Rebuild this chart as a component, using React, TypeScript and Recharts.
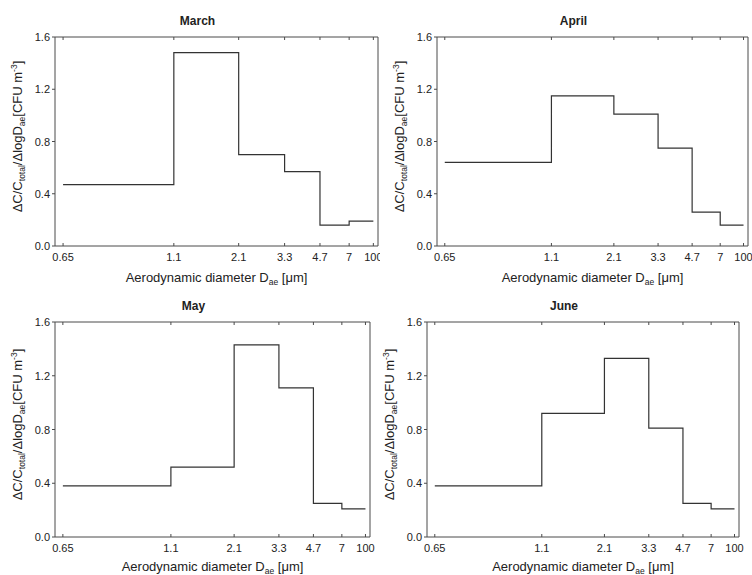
import React from "react";
import { LineChart, Line, XAxis, YAxis, Label } from "recharts";

// impactor cut diameters (µm) and where each one sits along the printed axis (0..1)
const cutLabels = ["0.65", "1.1", "2.1", "3.3", "4.7", "7", "100"];
const cutAxisPos = [0, 0.357, 0.566, 0.714, 0.828, 0.922, 1];

// ΔC/Ctotal/ΔlogDae per size stage
const marchValues = [0.47, 1.48, 0.7, 0.57, 0.16, 0.19];
const aprilValues = [0.64, 1.15, 1.01, 0.75, 0.26, 0.16];
const mayValues = [0.38, 0.52, 1.43, 1.11, 0.25, 0.21];
const juneValues = [0.38, 0.92, 1.33, 0.81, 0.25, 0.21];

const yTicks = [0, 0.4, 0.8, 1.2, 1.6];
const yMinorTicks = [0, 0.2, 0.4, 0.6, 0.8, 1.0, 1.2, 1.4, 1.6];

const FONT = "'Liberation Sans', Arial, Helvetica, sans-serif";
const AXIS = "#4a4a4a";
const TEXT = "#222";
const X_DOMAIN: [number, number] = [-0.026, 1.015];

const toSteps = (values: number[]) =>
  cutAxisPos.map((x, i) => ({ x, v: values[Math.min(i, values.length - 1)] }));

const BottomTick = (p: any) => {
  const idx = cutAxisPos.indexOf(p.payload.value);
  return (
    <g>
      <line x1={p.x} y1={p.y} x2={p.x} y2={p.y - 3} stroke={AXIS} />
      <text x={p.x} y={p.y + 15} textAnchor="middle" fontSize={11} fill={TEXT} fontFamily={FONT}>
        {cutLabels[idx]}
      </text>
    </g>
  );
};

const TopTick = (p: any) => <line x1={p.x} y1={p.y} x2={p.x} y2={p.y + 3} stroke={AXIS} />;

const LeftTick = (p: any) => (
  <g>
    <line x1={p.x} y1={p.y} x2={p.x - 3} y2={p.y} stroke={AXIS} />
    <text x={p.x - 5} y={p.y + 4} textAnchor="end" fontSize={11} fill={TEXT} fontFamily={FONT}>
      {Number(p.payload.value).toFixed(1)}
    </text>
  </g>
);

const RightTick = (p: any) => <line x1={p.x} y1={p.y} x2={p.x - 3} y2={p.y} stroke={AXIS} />;

const XTitle = (props: any) => {
  const vb = props.viewBox || {};
  const cx = vb.x + vb.width / 2;
  const y = vb.y + props.offsetY;
  return (
    <text x={cx} y={y} textAnchor="middle" fontSize={13} fill={TEXT} fontFamily={FONT}>
      <tspan>Aerodynamic diameter D</tspan>
      <tspan fontSize={8.5} dy={3}>ae</tspan>
      <tspan dy={-3}> [μm]</tspan>
    </text>
  );
};

const YTitle = (props: any) => {
  const vb = props.viewBox || {};
  const cx = vb.x + vb.width - 33;
  const cy = vb.y + vb.height / 2;
  return (
    <text
      x={cx + 5}
      y={cy}
      transform={`rotate(-90, ${cx}, ${cy})`}
      textAnchor="middle"
      fontSize={13}
      fill={TEXT}
      fontFamily={FONT}
    >
      <tspan>ΔC/C</tspan>
      <tspan fontSize={8.5} dy={3}>total</tspan>
      <tspan dy={-3}>/ΔlogD</tspan>
      <tspan fontSize={8.5} dy={3}>ae</tspan>
      <tspan dy={-3}>[CFU m</tspan>
      <tspan fontSize={8.5} dy={-5}>-3</tspan>
      <tspan dy={5}>]</tspan>
    </text>
  );
};

const PanelTitle = ({ viewBox, text }: any) => {
  const vb = viewBox || {};
  return (
    <text
      x={vb.x + vb.width / 2 - 19}
      y={vb.y + vb.height - 12}
      textAnchor="middle"
      fontSize={12}
      fontWeight="bold"
      fill={TEXT}
      fontFamily={FONT}
    >
      {text}
    </text>
  );
};

interface PanelProps {
  title: string;
  values: number[];
  left: number;
  top: number;
  width: number;
  height: number;
  plotLeft: number;
  plotTop: number;
  marginRight: number;
  xAxisHeight: number;
  xTitleOffset: number;
}

function Panel(p: PanelProps) {
  const data = toSteps(p.values);
  return (
    <div style={{ position: "absolute", left: p.left, top: p.top }}>
      <LineChart
        width={p.width}
        height={p.height}
        data={data}
        margin={{ top: p.plotTop - 1, right: p.marginRight - 1, bottom: 0, left: 0 }}
      >
        <XAxis
          dataKey="x"
          type="number"
          domain={X_DOMAIN}
          ticks={cutAxisPos}
          interval={0}
          allowDataOverflow
          height={p.xAxisHeight}
          tickSize={0}
          tickMargin={0}
          tickLine={false}
          tick={<BottomTick />}
          axisLine={{ stroke: AXIS, strokeWidth: 1 }}
        >
          <Label content={<XTitle offsetY={p.xTitleOffset} />} />
        </XAxis>
        <XAxis
          xAxisId="top"
          orientation="top"
          dataKey="x"
          type="number"
          domain={X_DOMAIN}
          ticks={cutAxisPos}
          interval={0}
          allowDataOverflow
          height={1}
          tickSize={0}
          tickMargin={0}
          tickLine={false}
          tick={<TopTick />}
          axisLine={{ stroke: AXIS, strokeWidth: 1 }}
        >
          <Label content={<PanelTitle text={p.title} />} />
        </XAxis>
        <YAxis
          type="number"
          domain={[0, 1.6]}
          ticks={yTicks}
          interval={0}
          width={p.plotLeft}
          tickSize={0}
          tickMargin={0}
          tickLine={false}
          tick={<LeftTick />}
          axisLine={{ stroke: AXIS, strokeWidth: 1 }}
        >
          <Label content={<YTitle />} />
        </YAxis>
        <YAxis
          yAxisId="right"
          orientation="right"
          type="number"
          domain={[0, 1.6]}
          ticks={yMinorTicks}
          interval={0}
          width={1}
          tickSize={0}
          tickMargin={0}
          tickLine={false}
          tick={<RightTick />}
          axisLine={{ stroke: AXIS, strokeWidth: 1 }}
        />
        <Line
          type="stepAfter"
          dataKey="v"
          stroke="#333"
          strokeWidth={1.2}
          dot={false}
          activeDot={false}
          isAnimationActive={false}
        />
      </LineChart>
    </div>
  );
}

export default function App() {
  return (
    <div
      style={{
        position: "absolute",
        left: 0,
        top: 0,
        width: 752,
        height: 575,
        background: "#fff",
        fontFamily: FONT,
      }}
    >
      <Panel title="March" values={marchValues} left={0} top={0} width={380} height={290}
        plotLeft={55} plotTop={37} marginRight={2} xAxisHeight={44} xTitleOffset={36} />
      <Panel title="April" values={aprilValues} left={376} top={0} width={376} height={290}
        plotLeft={61} plotTop={37} marginRight={4} xAxisHeight={44} xTitleOffset={36} />
      <Panel title="May" values={mayValues} left={0} top={290} width={380} height={285}
        plotLeft={55} plotTop={32} marginRight={10} xAxisHeight={38} xTitleOffset={34} />
      <Panel title="June" values={juneValues} left={376} top={290} width={376} height={285}
        plotLeft={51} plotTop={32} marginRight={13} xAxisHeight={38} xTitleOffset={34} />
    </div>
  );
}
